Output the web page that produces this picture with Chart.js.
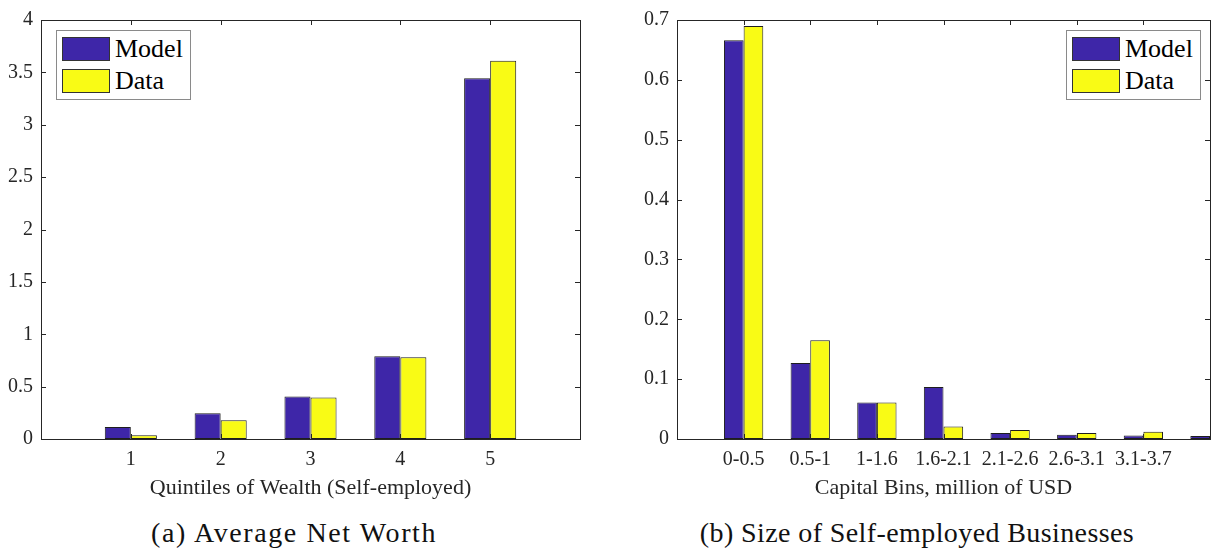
<!DOCTYPE html>
<html>
<head>
<meta charset="utf-8">
<script src="https://cdn.jsdelivr.net/npm/chart.js@4/dist/chart.umd.min.js"></script>
<style>
  html, body { margin: 0; padding: 0; background: #fff; }
  #wrap { position: relative; width: 1219px; height: 553px; overflow: hidden; font-family: "Liberation Serif", "Times New Roman", Times, "DejaVu Serif", serif; color: #262626; }
  canvas { position: absolute; top: 0; }
  .legend { position: absolute; border: 1px solid #8a8a8a; background: #fff; box-sizing: border-box; }
  .legend .row { position: absolute; left: 5px; height: 25px; display: flex; align-items: center; }
  .legend .sw { width: 48px; height: 24px; border: 1px solid #333; box-sizing: border-box; margin-right: 5px; }
  .legend .tx { font-size: 26px; line-height: 26px; color: #000; }
  .caption { position: absolute; top: 517px; font-size: 28px; color: #111; white-space: nowrap; transform: translateX(-50%); }
</style>
</head>
<body>
<div id="wrap">
  <canvas id="left"  width="600" height="505" style="left:0;width:600px;height:505px"></canvas>
  <canvas id="right" width="609" height="505" style="left:610px;width:609px;height:505px"></canvas>

  <div class="legend" style="left:56px;top:30px;width:135px;height:70px">
    <div class="row" style="top:5px"><div class="sw" style="background:#3E26A8"></div><span class="tx">Model</span></div>
    <div class="row" style="top:37px"><div class="sw" style="background:#F9FB15"></div><span class="tx">Data</span></div>
  </div>
  <div class="legend" style="left:1066px;top:30px;width:135px;height:70px">
    <div class="row" style="top:5px"><div class="sw" style="background:#3E26A8"></div><span class="tx">Model</span></div>
    <div class="row" style="top:37px"><div class="sw" style="background:#F9FB15"></div><span class="tx">Data</span></div>
  </div>

  <div class="caption" style="left:294px;letter-spacing:1.6px">(a) Average Net Worth</div>
  <div class="caption" style="left:917px;letter-spacing:0.4px">(b) Size of Self-employed Businesses</div>
</div>

<script>
"use strict";

// (a) net worth by wealth quintile; blank slots pad the axis to [0, 6]
const quintileLabels = ["", "1", "2", "3", "4", "5", ""];
const netWorthModel  = [null, 0.115, 0.245, 0.405, 0.790, 3.445, null];
const netWorthData   = [null, 0.035, 0.180, 0.395, 0.780, 3.610, null];

// (b) business size by capital bin; the 8th bin sits on the right border
const capitalLabels = ["", "0-0.5", "0.5-1", "1-1.6", "1.6-2.1", "2.1-2.6", "2.6-3.1", "3.1-3.7", ""];
const sizeModel     = [null, 0.666, 0.127, 0.061, 0.087, 0.010, 0.007, 0.006, 0.005];
const sizeData      = [null, 0.690, 0.165, 0.061, 0.021, 0.015, 0.010, 0.012, null];

const MODEL_COLOR = "#3E26A8";
const DATA_COLOR  = "#F9FB15";
const INK = "#262626";
const FONT = "Liberation Serif, Times New Roman, Times, DejaVu Serif, serif";

// matlab-style box with inward ticks on all four sides
const boxAxes = {
  id: "boxAxes",
  afterDraw(chart) {
    const { ctx, chartArea: a, scales: { x, y } } = chart;
    const len = 5;
    ctx.save();
    ctx.strokeStyle = INK;
    ctx.lineWidth = 1;
    ctx.beginPath();
    x.ticks.forEach((t, i) => {
      if (!chart.data.labels[t.value]) return;
      const px = Math.round(x.getPixelForTick(i)) + 0.5;
      ctx.moveTo(px, a.bottom); ctx.lineTo(px, a.bottom - len);
      ctx.moveTo(px, a.top);    ctx.lineTo(px, a.top + len);
    });
    y.ticks.forEach((t, i) => {
      const py = Math.round(y.getPixelForTick(i)) + 0.5;
      ctx.moveTo(a.left, py);  ctx.lineTo(a.left + len, py);
      ctx.moveTo(a.right, py); ctx.lineTo(a.right - len, py);
    });
    ctx.stroke();
    ctx.strokeRect(Math.round(a.left) + 0.5, Math.round(a.top) + 0.5,
                   Math.round(a.right - a.left), Math.round(a.bottom - a.top));
    ctx.restore();
  },
};

function makeChart(id, labels, model, data, opts) {
  const bar = (label, values, color) => ({
    label, data: values, backgroundColor: color,
    borderColor: "#1e1e1e", borderWidth: 1, borderSkipped: false,
    categoryPercentage: opts.catPct, barPercentage: 1, clip: 0,
  });

  return new Chart(document.getElementById(id), {
    type: "bar",
    data: { labels, datasets: [bar("Model", model, MODEL_COLOR), bar("Data", data, DATA_COLOR)] },
    options: {
      responsive: false,
      animation: false,
      layout: { padding: { top: 14, right: opts.padRight, left: 0, bottom: 0 } },
      plugins: { legend: { display: false }, tooltip: { enabled: false } },
      scales: {
        x: {
          offset: false,
          grid: { display: false, drawTicks: false },
          border: { display: false },
          ticks: { color: INK, font: { family: FONT, size: 20 }, padding: 9, autoSkip: false, maxRotation: 0 },
          title: { display: true, text: opts.xTitle, color: INK, font: { family: FONT, size: 22 }, padding: { top: 0, bottom: 4 } },
          afterFit: s => { s.height = 66; },
        },
        y: {
          min: 0, max: opts.yMax,
          grid: { display: false, drawTicks: false },
          border: { display: false },
          ticks: { stepSize: opts.yStep, color: INK, font: { family: FONT, size: 20 }, padding: 8,
                   callback: v => String(+v.toFixed(2)) },
          afterFit: s => { s.width = opts.yWidth; },
        },
      },
    },
    plugins: [boxAxes],
  });
}

makeChart("left", quintileLabels, netWorthModel, netWorthData, {
  xTitle: "Quintiles of Wealth (Self-employed)", yMax: 4, yStep: 0.5, yWidth: 41, padRight: 20, catPct: 0.58,
});
makeChart("right", capitalLabels, sizeModel, sizeData, {
  xTitle: "Capital Bins, million of USD", yMax: 0.7, yStep: 0.1, yWidth: 67, padRight: 3, catPct: 0.59,
});
</script>
</body>
</html>
